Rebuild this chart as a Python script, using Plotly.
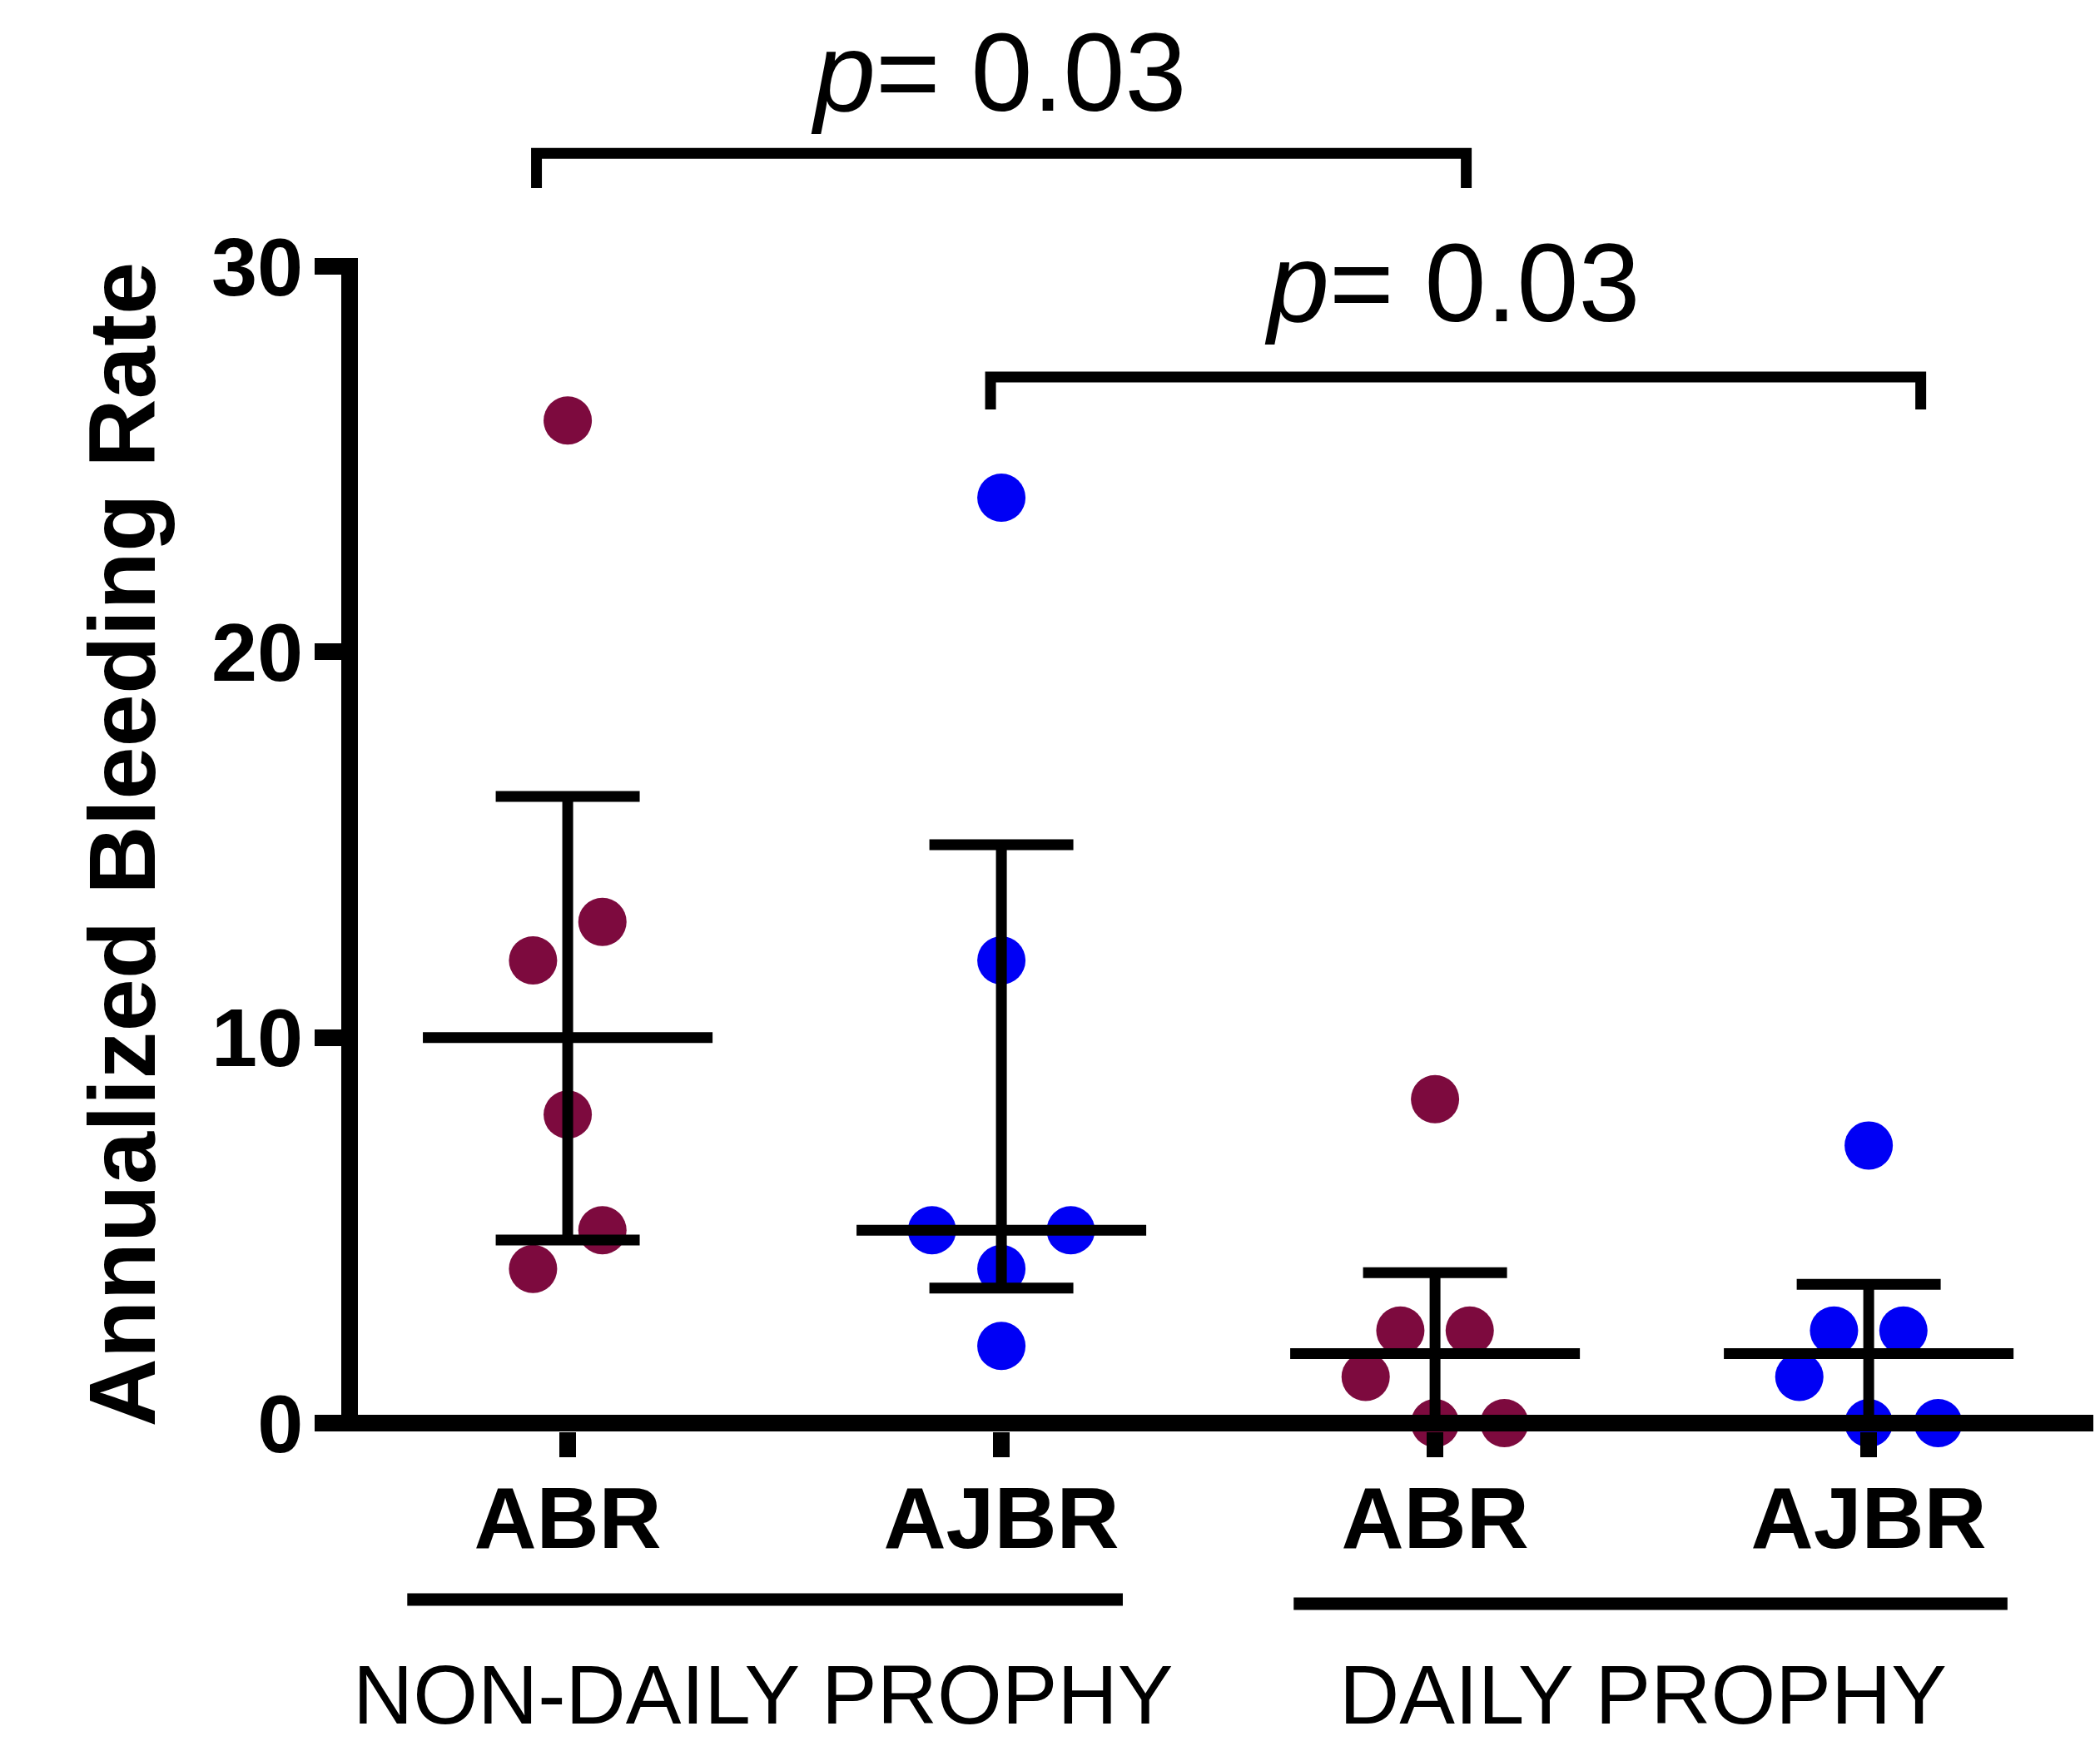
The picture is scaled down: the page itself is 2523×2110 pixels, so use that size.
import numpy as np
import plotly.graph_objects as go

# ---------------- data ----------------
categories = ["ABR", "AJBR", "ABR", "AJBR"]
groups = ["NON-DAILY PROPHY", "DAILY PROPHY"]
nondaily_abr = [26, 13, 12, 8, 5, 4]
nondaily_ajbr = [24, 12, 5, 5, 4, 2]
daily_abr = [8.4, 2.4, 2.4, 1.2, 0, 0]
daily_ajbr = [7.2, 2.4, 2.4, 1.2, 0, 0]
series = [nondaily_abr, nondaily_ajbr, daily_abr, daily_ajbr]
p_values = ["0.03", "0.03"]
y_ticks = [0, 10, 20, 30]

# ---------------- styles / positions ----------------
jitter = [
    [0, 0.08, -0.08, 0, 0.08, -0.08],
    [0, 0, -0.16, 0.16, 0, 0],
    [0, -0.08, 0.08, -0.16, 0, 0.16],
    [0, -0.08, 0.08, -0.16, 0, 0.16],
]
colors = ["#7d0a3e", "#0000f5", "#7d0a3e", "#0000f5"]
FONT = "Liberation Sans, Arial, sans-serif"
# the page body adds an 8px margin, so the figure is made 16px smaller
W, H = 2515, 2102
ML, MR, MT, MB = 412, 8, 12, 390
PX_PER_UNIT = 1390 / 30.0
y_min = -10 / PX_PER_UNIT
y_max = y_min + (H - MT - MB) / PX_PER_UNIT
x_min = -0.503
x_max = 3.518

fig = go.Figure()

# points
for i, vals in enumerate(series):
    fig.add_trace(go.Scatter(
        x=[i + j for j in jitter[i]], y=vals, mode="markers",
        marker=dict(size=58, color=colors[i], line=dict(width=0)),
        cliponaxis=False, showlegend=False, hoverinfo="y"))

# median + IQR
lx, ly = [], []
for i, vals in enumerate(series):
    q1, med, q3 = np.percentile(vals, [25, 50, 75], method="weibull")
    for seg in [((i - 0.334, med), (i + 0.334, med)),
                ((i - 0.166, q1), (i + 0.166, q1)),
                ((i - 0.166, q3), (i + 0.166, q3)),
                ((i, q1), (i, q3))]:
        lx += [seg[0][0], seg[1][0], None]
        ly += [seg[0][1], seg[1][1], None]
fig.add_trace(go.Scatter(x=lx, y=ly, mode="lines",
                         line=dict(color="black", width=13),
                         showlegend=False, hoverinfo="skip"))

# significance brackets
brackets = [(-0.072, 2.072, 32.93, 32.03, 35.02, 0.994),
            (0.975, 3.12, 27.13, 26.29, 29.56, 2.04)]
for k, (x0, x1, yb, yl, yt, xt) in enumerate(brackets):
    fig.add_trace(go.Scatter(x=[x0, x0, x1, x1], y=[yl, yb, yb, yl], mode="lines",
                             line=dict(color="black", width=13),
                             showlegend=False, hoverinfo="skip"))
    fig.add_annotation(x=xt, y=yt, xref="x", yref="y", showarrow=False,
                       text="<i>p</i>= " + p_values[k], xanchor="center", yanchor="middle",
                       font=dict(family=FONT, size=133, color="black"))

# axis lines
fig.add_shape(type="line", xref="paper", yref="y", x0=0, x1=0,
              y0=y_min, y1=30 + 10 / PX_PER_UNIT, line=dict(color="black", width=20), layer="above")
fig.add_shape(type="line", xref="paper", yref="y", x0=0, x1=1, y0=0, y1=0,
              line=dict(color="black", width=20), layer="above")

# group underline bars and labels
group_spans = [(-0.37, 1.28, -0.1188, 0.449), (1.674, 3.32, -0.1218, 2.48)]
for g, (x0, x1, yp, xc) in enumerate(group_spans):
    fig.add_shape(type="line", xref="x", yref="paper", x0=x0, x1=x1, y0=yp, y1=yp,
                  line=dict(color="black", width=15))
    fig.add_annotation(x=xc, y=-0.186, xref="x", yref="paper", showarrow=False,
                       text=groups[g], xanchor="center", yanchor="middle",
                       font=dict(family=FONT, size=100, color="black"))

# y title
fig.add_annotation(x=-0.131, y=15, xref="paper", yref="y", showarrow=False,
                   text="<b>Annualized Bleeding Rate</b>", textangle=-90,
                   xanchor="center", yanchor="middle",
                   font=dict(family=FONT, size=114, color="black"))

fig.update_layout(
    width=W, height=H, margin=dict(l=ML, r=MR, t=MT, b=MB),
    plot_bgcolor="white", paper_bgcolor="white", showlegend=False,
    xaxis=dict(range=[x_min, x_max], tickvals=[0, 1, 2, 3],
               ticktext=[f"<b>{c}</b>" for c in categories],
               ticks="outside", ticklen=30, tickwidth=20, tickcolor="black",
               ticklabelstandoff=-16,
               showline=False, showgrid=False, zeroline=False,
               tickfont=dict(family=FONT, size=104, color="black")),
    yaxis=dict(range=[y_min, y_max], tickvals=y_ticks,
               ticktext=[f"<b>{v}</b>" for v in y_ticks],
               ticks="outside", ticklen=41, tickwidth=20, tickcolor="black",
               ticklabelstandoff=-6,
               showline=False, showgrid=False, zeroline=False,
               tickfont=dict(family=FONT, size=99, color="black")),
)

fig.write_html("out.html")
